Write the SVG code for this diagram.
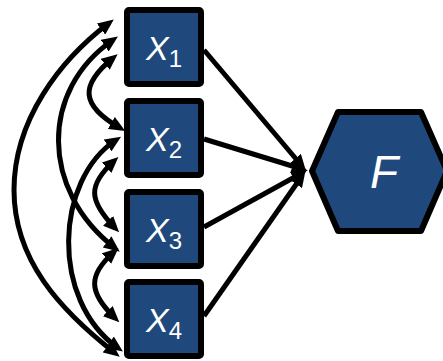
<svg xmlns="http://www.w3.org/2000/svg" width="443" height="361" viewBox="0 0 443 361">
  <style>
    .box { fill: #1F497D; stroke: #000; stroke-width: 6; stroke-linejoin: round; }
    .lbl { font-family: "Liberation Sans", Arial, sans-serif; font-style: italic; fill: #fff; text-anchor: middle; }
    .sub { font-style: normal; font-size: 24px; }
    .edge { fill: none; stroke: #000; stroke-width: 5; }
  </style>
  <defs>
    <marker id="arrow" markerUnits="userSpaceOnUse" markerWidth="16" markerHeight="14" refX="10" refY="7" orient="auto-start-reverse" viewBox="0 0 16 14">
      <path d="M0,0 L16,7 L0,14 Z" fill="#000"/>
    </marker>
  </defs>

  <!-- correlations between the predictors and paths into F -->
  <g id="connectors">
    <path class="edge" marker-start="url(#arrow)" marker-end="url(#arrow)" d="M113,58 C80,85 80,105 120,128"/>
    <path class="edge" marker-start="url(#arrow)" marker-end="url(#arrow)" d="M114,161 C88,185 88,200 115,228"/>
    <path class="edge" marker-start="url(#arrow)" marker-end="url(#arrow)" d="M114,252 C88,275 88,292 115,318"/>
    <path class="edge" marker-start="url(#arrow)" marker-end="url(#arrow)" d="M113,40 C40,90 40,190 115,248"/>
    <path class="edge" marker-start="url(#arrow)" marker-end="url(#arrow)" d="M116,140 C55,180 50,300 118,348"/>
    <path class="edge" marker-start="url(#arrow)" marker-end="url(#arrow)" d="M109,23 C60,60 14,120 14,190 S60,310 115,353"/>
    <path class="edge" marker-end="url(#arrow)" d="M204,50 L302,166"/>
    <path class="edge" marker-end="url(#arrow)" d="M204,139 L302,169"/>
    <path class="edge" marker-end="url(#arrow)" d="M204,227 L302,173"/>
    <path class="edge" marker-end="url(#arrow)" d="M204,316 L302,176"/>
  </g>

  <g id="x1">
    <rect class="box" x="127" y="10" width="74" height="74" rx="2"/>
    <text class="lbl" x="164" y="60" font-size="34">X<tspan class="sub" dy="7">1</tspan></text>
  </g>
  <g id="x2">
    <rect class="box" x="127" y="101" width="74" height="74" rx="2"/>
    <text class="lbl" x="164" y="151" font-size="34">X<tspan class="sub" dy="7">2</tspan></text>
  </g>
  <g id="x3">
    <rect class="box" x="127" y="192" width="74" height="74" rx="2"/>
    <text class="lbl" x="164" y="242" font-size="34">X<tspan class="sub" dy="7">3</tspan></text>
  </g>
  <g id="x4">
    <rect class="box" x="127" y="282" width="74" height="74" rx="2"/>
    <text class="lbl" x="164" y="332" font-size="34">X<tspan class="sub" dy="7">4</tspan></text>
  </g>

  <g id="f">
    <polygon class="box" points="312,171 338,112 421,112 447,171 421,231 338,231"/>
    <text class="lbl" x="384" y="188" font-size="46">F</text>
  </g>
</svg>
